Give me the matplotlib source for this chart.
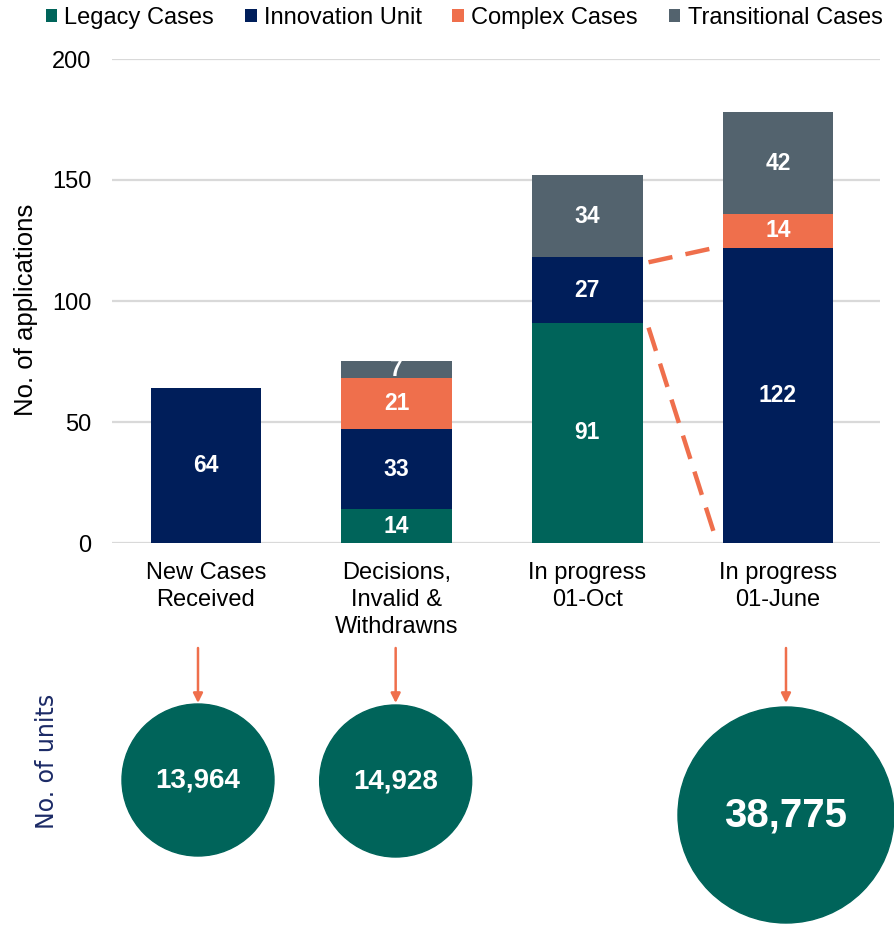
import matplotlib
matplotlib.use("Agg")
import matplotlib.pyplot as plt
from matplotlib.patches import Circle
import numpy as np

plt.rcParams['font.family'] = ['Liberation Sans', 'DejaVu Sans']

categories = ["New Cases\nReceived", "Decisions,\nInvalid &\nWithdrawns", "In progress\n01-Oct", "In progress\n01-June"]
series_names = ["Legacy Cases", "Innovation Unit", "Complex Cases", "Transitional Cases"]
legacy = [0, 14, 91, 0]
innovation = [64, 33, 27, 122]
complex_cases = [0, 21, 0, 14]
transitional = [0, 7, 34, 42]
units = [13964, 14928, None, 38775]
yticks = [0, 50, 100, 150, 200]

colors = ["#00645A", "#001E5A", "#EF6F4C", "#53636E"]
W, H = 894, 930
fig = plt.figure(figsize=(W / 100, H / 100), dpi=100)

# main axes in pixel layout
left, right, bottom, top = 112, 880, 543, 59
ax = fig.add_axes([left / W, (H - bottom) / H, (right - left) / W, (bottom - top) / H])
x = np.arange(len(categories))
bw = 0.582
series = [legacy, innovation, complex_cases, transitional]
base = np.zeros(len(categories))
for vals, col, name in zip(series, colors, series_names):
    vals = np.array(vals, dtype=float)
    ax.bar(x, vals, bw, bottom=base, color=col, label=name, zorder=3)
    for xi, v, b in zip(x, vals, base):
        if v > 0:
            ax.text(xi, b + v / 2, f"{int(v)}", ha="center", va="center",
                    color="white", fontsize=16.5, fontweight="bold", zorder=4)
    base = base + vals

ax.set_xlim(-0.493, 3.535)
ax.set_ylim(0, 200)
ax.set_yticks(yticks)
ax.set_yticklabels([str(t) for t in yticks], fontsize=17)
ax.set_xticks(x)
ax.set_xticklabels(categories, fontsize=17, linespacing=1.28, va="top")
ax.tick_params(length=0)
ax.tick_params(axis="y", pad=15)
ax.tick_params(axis="x", pad=14)
for s in ax.spines.values():
    s.set_visible(False)
ax.grid(axis="y", color="#D9D9D9", lw=1.6, zorder=0)
ax.set_axisbelow(True)
fig.text(26 / W, 1 - 310 / H, "No. of applications", rotation=90, ha="center",
         va="center", fontsize=18.5)

# dashed connectors between bars 3 and 4
x0 = 2 + bw / 2 + 0.03
x1 = 3 - bw / 2 - 0.04
ax.plot([x0, x1], [legacy[2] + innovation[2] - 2, legacy[3] + innovation[3]],
        color="#EF6F4C", lw=3.2, dashes=(5.5, 3), zorder=5, clip_on=False)
ax.plot([x0, x1], [legacy[2] - 2, 3], color="#EF6F4C", lw=3.2,
        dashes=(5.5, 3), zorder=5, clip_on=False)

# legend
handles, labels = ax.get_legend_handles_labels()
leg = fig.legend(handles, labels, loc="center", bbox_to_anchor=(464 / W, 1 - 18 / H), ncol=4,
                 frameon=False, fontsize=17, handlelength=0.5, handleheight=0.5,
                 handletextpad=0.3, columnspacing=1.3, borderpad=0)

# bottom circles overlay in pixel coordinates
ax2 = fig.add_axes([0, 0, 1, 1])
ax2.set_xlim(0, W)
ax2.set_ylim(H, 0)
ax2.axis("off")
ax2.patch.set_alpha(0)
radii = [76, 76, None, 108]
cy = [780, 781, None, 815]
dx = [-8, -1, None, 8]
fsz = [20, 20, None, 29]
for i, u in enumerate(units):
    if u is None:
        continue
    px = ax.transData.transform((x[i], 0))[0] + dx[i]
    ax2.add_patch(Circle((px, cy[i]), radii[i], color="#00645A", zorder=2))
    ax2.text(px, cy[i], f"{u:,}", ha="center", va="center", color="white",
             fontsize=fsz[i], fontweight="bold", zorder=3)
    ax2.annotate("", xy=(px, 703), xytext=(px, 648),
                 arrowprops=dict(arrowstyle="-|>", color="#EF6F4C", lw=1.8,
                                 mutation_scale=14, shrinkA=0, shrinkB=0))

ax2.text(47, 761, "No. of units", rotation=90, ha="center", va="center",
         color="#1B2A66", fontsize=17, family=["DejaVu Sans"])

fig.savefig("out.png", dpi=100)
